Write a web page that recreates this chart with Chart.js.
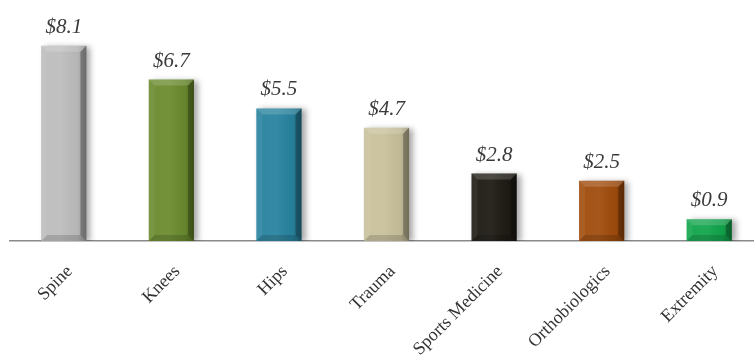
<!DOCTYPE html>
<html>
<head>
<meta charset="utf-8">
<script src="https://cdn.jsdelivr.net/npm/chart.js@4.4.1/dist/chart.umd.min.js"></script>
<style>
  html,body{margin:0;padding:0;background:#fff;overflow:hidden;}
  #wrap{width:763px;height:360px;}
</style>
</head>
<body>
<div id="wrap"><canvas id="chart"></canvas></div>
<script>
// Segment sizes ($ billions)
const categories=["Spine","Knees","Hips","Trauma","Sports Medicine","Orthobiologics","Extremity"];
const values=[8.1,6.7,5.5,4.7,2.8,2.5,0.9];
const barColors=["#bdbdbd","#6a8b2e","#28839f","#c9c19c","#1e1b14","#a04c0c","#12a54c"];

// drop shadow behind the bars
const shadowPlugin={
    id:"shadow",
    beforeDatasetsDraw(chart){
        const ctx=chart.ctx;
        ctx.save();
        ctx.shadowColor="rgba(0,0,0,0.35)";
        ctx.shadowBlur=6;
        ctx.shadowOffsetX=4;
        ctx.shadowOffsetY=1;
    },
    afterDatasetsDraw(chart){
        chart.ctx.restore();
    }
};

// bevel look + value labels
const bevelPlugin={
    id:"bevel",
    afterDatasetsDraw(chart){
        const ctx=chart.ctx;
        const meta=chart.getDatasetMeta(0);
        meta.data.forEach((bar,i)=>{
            const l=bar.x-bar.width/2, r=bar.x+bar.width/2;
            const t=bar.y, b=bar.base;
            const e=Math.min(6,(b-t)/3);
            ctx.save();
            // soft vertical shading
            const g=ctx.createLinearGradient(l,0,r,0);
            g.addColorStop(0,"rgba(255,255,255,0.04)");
            g.addColorStop(0.45,"rgba(255,255,255,0.06)");
            g.addColorStop(0.8,"rgba(0,0,0,0.04)");
            g.addColorStop(1,"rgba(0,0,0,0.22)");
            ctx.fillStyle=g;
            ctx.fillRect(l,t,r-l,b-t);
            // right edge
            ctx.fillStyle="rgba(0,0,0,0.28)";
            ctx.beginPath();
            ctx.moveTo(r,t);ctx.lineTo(r,b);ctx.lineTo(r-e,b-e);ctx.lineTo(r-e,t+e);ctx.closePath();ctx.fill();
            // left edge
            ctx.fillStyle="rgba(255,255,255,0.06)";
            ctx.beginPath();
            ctx.moveTo(l,t);ctx.lineTo(l,b);ctx.lineTo(l+e,b-e);ctx.lineTo(l+e,t+e);ctx.closePath();ctx.fill();
            // top edge
            ctx.fillStyle="rgba(255,255,255,0.16)";
            ctx.beginPath();
            ctx.moveTo(l,t);ctx.lineTo(r,t);ctx.lineTo(r-e,t+e);ctx.lineTo(l+e,t+e);ctx.closePath();ctx.fill();
            // bottom edge
            ctx.fillStyle="rgba(0,0,0,0.15)";
            ctx.beginPath();
            ctx.moveTo(l,b);ctx.lineTo(r,b);ctx.lineTo(r-e,b-e);ctx.lineTo(l+e,b-e);ctx.closePath();ctx.fill();
            // value label
            ctx.fillStyle="#3a3a3a";
            ctx.font="italic 21px 'Liberation Serif', 'DejaVu Serif', serif";
            ctx.textAlign="center";
            ctx.textBaseline="alphabetic";
            ctx.fillText("$"+values[i].toFixed(1),bar.x,t-13);
            ctx.restore();
        });
    }
};

new Chart(document.getElementById("chart"),{
    type:"bar",
    data:{
        labels:categories,
        datasets:[{
            data:values,
            backgroundColor:barColors,
            borderWidth:0,
            barPercentage:0.42,
            categoryPercentage:1
        }]
    },
    options:{
        responsive:true,
        maintainAspectRatio:false,
        animation:false,
        layout:{padding:{left:10,top:0,right:0,bottom:0}},
        plugins:{legend:{display:false},tooltip:{enabled:false}},
        scales:{
            x:{
                grid:{display:false},
                border:{display:true,color:"#8a8a8a",width:1.5},
                ticks:{
                    color:"#333",
                    font:{family:"'Liberation Serif', serif",size:18},
                    minRotation:45,
                    maxRotation:45,
                    padding:12,
                    labelOffset:6
                },
                afterFit(scale){ scale.height=119; }
            },
            y:{
                display:false,
                min:0,
                max:10
            }
        }
    },
    plugins:[shadowPlugin,bevelPlugin]
});
</script>
</body>
</html>
